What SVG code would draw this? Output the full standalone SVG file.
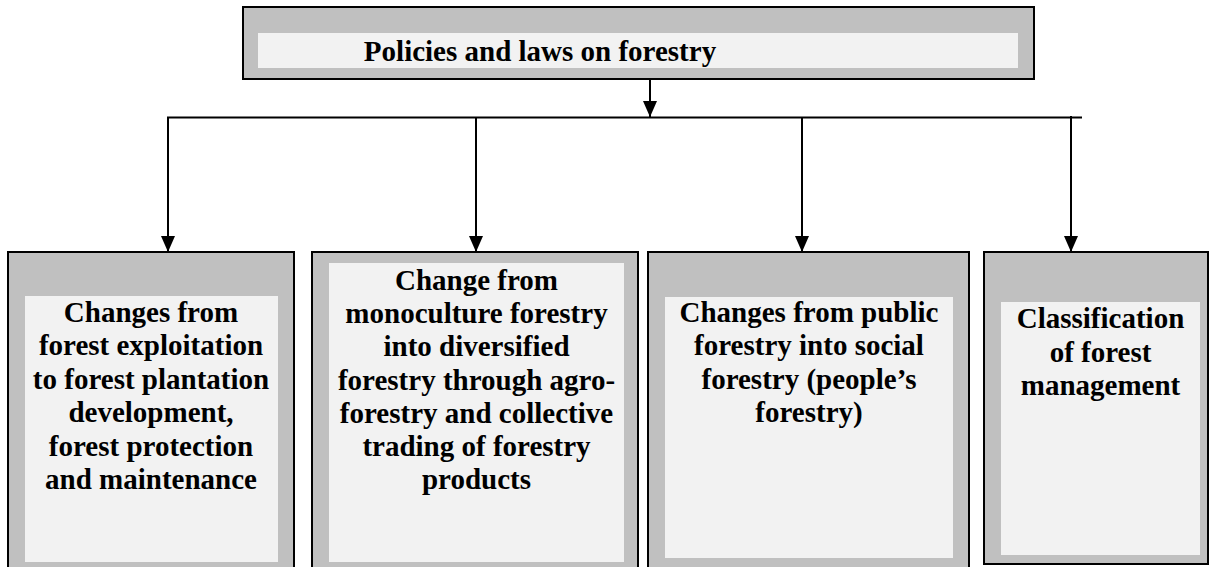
<svg xmlns="http://www.w3.org/2000/svg" width="1213" height="567" viewBox="0 0 1213 567">
<style>
.outer{fill:#c0c0c0;stroke:#000;stroke-width:2}
.inner{fill:#f2f2f2}
.lbl{font-family:"Liberation Serif","Times New Roman",serif;font-weight:bold;font-size:29px;fill:#000;text-anchor:middle}
.conn{stroke:#000;stroke-width:2;fill:none}
</style>
<defs>
<marker id="ah" markerUnits="userSpaceOnUse" markerWidth="16" markerHeight="14" refX="16" refY="7" orient="auto" viewBox="0 0 16 14">
<path d="M0,0 L16,7 L0,14 z" fill="#000"/>
</marker>
</defs>
<rect width="1213" height="567" fill="#fff"/>

<g id="node-top">
<rect class="outer" x="243" y="7" width="791" height="72"/>
<rect class="inner" x="258" y="33" width="760" height="35"/>
<text class="lbl" x="540" y="61">Policies and laws on forestry</text>
</g>

<g id="node-1">
<rect class="outer" x="8" y="252" width="286" height="320"/>
<rect class="inner" x="25" y="296" width="253" height="266"/>
<text class="lbl" x="151" y="322">Changes from</text>
<text class="lbl" x="151" y="355.4">forest exploitation</text>
<text class="lbl" x="151" y="388.8">to forest plantation</text>
<text class="lbl" x="151" y="422.2">development,</text>
<text class="lbl" x="151" y="455.6">forest protection</text>
<text class="lbl" x="151" y="489">and maintenance</text>
</g>

<g id="node-2">
<rect class="outer" x="312" y="252" width="326" height="320"/>
<rect class="inner" x="329" y="263" width="295" height="299"/>
<text class="lbl" x="476.5" y="290">Change from</text>
<text class="lbl" x="476.5" y="323.2">monoculture forestry</text>
<text class="lbl" x="476.5" y="356.4">into diversified</text>
<text class="lbl" x="476.5" y="389.6">forestry through agro-</text>
<text class="lbl" x="476.5" y="422.8">forestry and collective</text>
<text class="lbl" x="476.5" y="456">trading of forestry</text>
<text class="lbl" x="476.5" y="489.2">products</text>
</g>

<g id="node-3">
<rect class="outer" x="648" y="252" width="321" height="320"/>
<rect class="inner" x="665" y="297" width="288" height="261"/>
<text class="lbl" x="809" y="322">Changes from public</text>
<text class="lbl" x="809" y="355.3">forestry into social</text>
<text class="lbl" x="809" y="388.6">forestry (people’s</text>
<text class="lbl" x="809" y="421.9">forestry)</text>
</g>

<g id="node-4">
<rect class="outer" x="984" y="252" width="224" height="312"/>
<rect class="inner" x="1001" y="302" width="199" height="253"/>
<text class="lbl" x="1100.5" y="328">Classification</text>
<text class="lbl" x="1100.5" y="361.5">of forest</text>
<text class="lbl" x="1100.5" y="395">management</text>
</g>

<g id="connectors">
<line class="conn" x1="650" y1="80" x2="650" y2="117" marker-end="url(#ah)"/>
<line class="conn" x1="167" y1="117.5" x2="1082" y2="117.5"/>
<line class="conn" x1="168" y1="117" x2="168" y2="252" marker-end="url(#ah)"/>
<line class="conn" x1="476" y1="117" x2="476" y2="252" marker-end="url(#ah)"/>
<line class="conn" x1="802" y1="117" x2="802" y2="252" marker-end="url(#ah)"/>
<line class="conn" x1="1071" y1="116" x2="1071" y2="252" marker-end="url(#ah)"/>
</g>
</svg>
